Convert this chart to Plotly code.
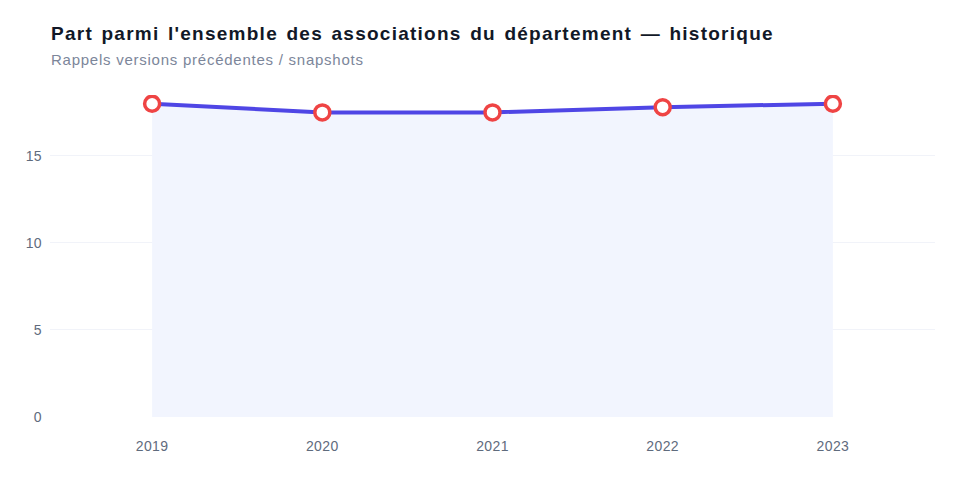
import plotly.graph_objects as go

years = ["2019", "2020", "2021", "2022", "2023"]
values = [18.0, 17.5, 17.5, 17.8, 18.0]
yticks = [0, 5, 10, 15]

title_text = "Part parmi l'ensemble des associations du département — historique"
subtitle_text = "Rappels versions précédentes / snapshots"

PLOT_TOP, PLOT_BOTTOM = 95, 417
ph = PLOT_BOTTOM - PLOT_TOP
FONT = "Liberation Sans, Arial, sans-serif"


def spaced(s, px, word=0):
    return "<span style='letter-spacing:%spx;word-spacing:%spx'>%s</span>" % (px, word, s)


fig = go.Figure()
fig.add_trace(go.Scatter(
    x=years, y=values, mode="lines+markers",
    fill="tozeroy", fillcolor="#f2f5fe",
    line=dict(color="#4F46E5", width=4),
    marker=dict(size=15, color="white", line=dict(color="#EF4444", width=3.5)),
    hoverinfo="x+y", showlegend=False,
))

fig.add_annotation(text="<b>" + spaced(title_text, 1.25, 2) + "</b>", xref="paper", yref="paper",
                   x=0, y=1 + (PLOT_TOP - 34) / ph, xanchor="left", yanchor="middle",
                   showarrow=False, borderpad=0,
                   font=dict(family=FONT, size=19, color="#111827"))
fig.add_annotation(text=spaced(subtitle_text, 0.75), xref="paper", yref="paper",
                   x=0, y=1 + (PLOT_TOP - 60) / ph, xanchor="left", yanchor="middle",
                   showarrow=False, borderpad=0,
                   font=dict(family=FONT, size=15, color="#7c869a"))

fig.update_layout(
    width=960, height=480,
    paper_bgcolor="white", plot_bgcolor="white",
    margin=dict(l=50, r=25, t=PLOT_TOP, b=480 - PLOT_BOTTOM),
    font=dict(family=FONT, color="#5f6b7d", size=14),
    xaxis=dict(type="category", range=[-0.6, 4.6], showgrid=False, zeroline=False,
               showline=False, ticks="", ticklabelstandoff=19,
               tickvals=years, ticktext=[spaced(y, 0.4) for y in years],
               tickfont=dict(size=14, color="#5f6b7d")),
    yaxis=dict(range=[0, 18.5], tickvals=yticks, ticktext=[spaced(str(v), 0.4) for v in yticks],
               showgrid=True, gridcolor="#f1f3f9",
               gridwidth=1, zeroline=False, showline=False, ticks="", ticklabelstandoff=7,
               tickfont=dict(size=14, color="#5f6b7d")),
)

fig.write_html("out.html")
